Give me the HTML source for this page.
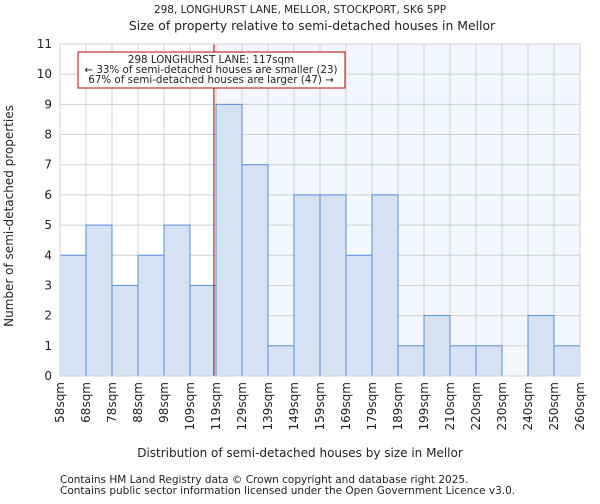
<!DOCTYPE html>
<html><head><meta charset="utf-8"><style>
body{margin:0;background:#fff;font-family:"DejaVu Sans","Liberation Sans",sans-serif;}
svg text{font-family:"DejaVu Sans","Liberation Sans",sans-serif;fill:#222;}
</style></head><body>
<svg id="chart" width="600" height="500" xmlns="http://www.w3.org/2000/svg">
<text x="300" y="13" font-size="10.5" text-anchor="middle">298, LONGHURST LANE, MELLOR, STOCKPORT, SK6 5PP</text>
<text x="312" y="30" font-size="12.4" text-anchor="middle">Size of property relative to semi-detached houses in Mellor</text>
<g id="plot"></g>
<text x="300" y="457" font-size="12" text-anchor="middle">Distribution of semi-detached houses by size in Mellor</text>
<text transform="translate(13,216) rotate(-90)" font-size="12" text-anchor="middle">Number of semi-detached properties</text>
<text x="60" y="483" font-size="10.5">Contains HM Land Registry data © Crown copyright and database right 2025.</text>
<text x="60" y="494" font-size="10.5">Contains public sector information licensed under the Open Government Licence v3.0.</text>
</svg>
<script>
const categories=["58sqm","68sqm","78sqm","88sqm","98sqm","109sqm","119sqm","129sqm","139sqm","149sqm","159sqm","169sqm","179sqm","189sqm","199sqm","210sqm","220sqm","230sqm","240sqm","250sqm","260sqm"];
const counts=[4,5,3,4,5,3,9,7,1,6,6,4,6,1,2,1,1,0,2,1];
const yTicks=[0,1,2,3,4,5,6,7,8,9,10,11];
const markerIndex=5.92;
const NS="http://www.w3.org/2000/svg";
const L=60,R=580,T=44,B=376,yMax=11;
const bw=(R-L)/counts.length;
const x=i=>L+i*bw;
const y=v=>B-(B-T)*v/yMax;
const g=document.getElementById('plot');
function mk(t,a){const e=document.createElementNS(NS,t);for(const k in a)e.setAttribute(k,a[k]);g.appendChild(e);return e;}
const hl=mk('rect',{x:x(markerIndex),y:T,width:R-x(markerIndex),height:B-T,fill:'#f3f6fd'});


yTicks.forEach(v=>{const l=mk('line',{x1:L,x2:R,y1:y(v),y2:y(v),stroke:'#d0d0d0','stroke-width':1});


const t=mk('text',{x:L-8,y:y(v)+4,'font-size':12,'text-anchor':'end'});t.textContent=v;

});
categories.forEach((c,i)=>{const l=mk('line',{x1:x(i),x2:x(i),y1:T,y2:B,stroke:'#d0d0d0','stroke-width':1});


const t=mk('text',{transform:`translate(${x(i)+4},${B+6}) rotate(-90)`,'font-size':12,'text-anchor':'end'});t.textContent=c;

});
counts.forEach((v,i)=>{if(v<=0)return;const r=mk('rect',{x:x(i),y:y(v),width:bw,height:B-y(v),fill:'#d6e1f3',stroke:'#5b8fd6','stroke-width':1});

});
const ml=mk('line',{x1:x(markerIndex),x2:x(markerIndex),y1:T,y2:B,stroke:'#a00000','stroke-width':1});


const ax=mk('rect',{x:L,y:T,width:R-L,height:B-T,fill:'none',stroke:'#d0d0d0'});


const box=mk('rect',{x:78,y:52,width:267,height:36,fill:'#fff',stroke:'#c00000','stroke-width':1});


[["298 LONGHURST LANE: 117sqm",63],["← 33% of semi-detached houses are smaller (23)",73],["67% of semi-detached houses are larger (47) →",83]].forEach(([s,yy])=>{const t=mk('text',{x:211,y:yy,'font-size':10.3,'text-anchor':'middle'});t.textContent=s;

});
</script>
</body></html>
